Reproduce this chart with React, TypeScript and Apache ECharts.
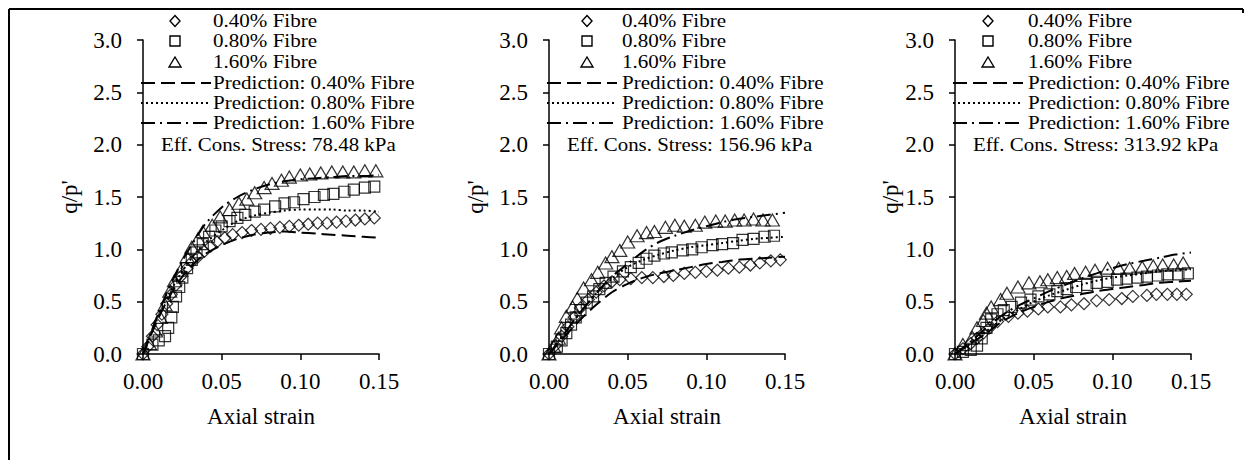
import React, { useEffect, useRef } from "react";
import * as echarts from "echarts";

type Pt = [number, number];

const panelStress = ["78.48", "156.96", "313.92"];
const fibreLabels = ["0.40% Fibre", "0.80% Fibre", "1.60% Fibre"];
const predictionLabels = ["Prediction: 0.40% Fibre", "Prediction: 0.80% Fibre", "Prediction: 1.60% Fibre"];
const xAxisName = "Axial strain";
const yAxisName = "q/p'";

// ---------- Panel 1: 78.48 kPa ----------
const p1Fibre040: Pt[] = [[0,0],[0.003,0.07],[0.006,0.17],[0.009,0.28],[0.012,0.38],[0.015,0.48],[0.018,0.57],[0.021,0.66],[0.024,0.74],[0.028,0.82],[0.031,0.88],[0.035,0.93],[0.039,0.98],[0.043,1.03],[0.047,1.07],[0.052,1.11],[0.057,1.14],[0.063,1.16],[0.069,1.18],[0.075,1.19],[0.081,1.2],[0.087,1.21],[0.093,1.22],[0.099,1.23],[0.105,1.24],[0.111,1.25],[0.117,1.25],[0.123,1.26],[0.129,1.27],[0.135,1.28],[0.141,1.29],[0.147,1.3]];
const p1Fibre080: Pt[] = [[0,0],[0.006,0.09],[0.01,0.13],[0.014,0.17],[0.016,0.25],[0.018,0.35],[0.019,0.45],[0.021,0.55],[0.023,0.64],[0.025,0.73],[0.028,0.82],[0.031,0.9],[0.034,0.97],[0.038,1.05],[0.042,1.12],[0.046,1.18],[0.05,1.22],[0.055,1.27],[0.06,1.3],[0.065,1.33],[0.071,1.36],[0.077,1.38],[0.084,1.41],[0.09,1.44],[0.096,1.45],[0.102,1.48],[0.109,1.5],[0.115,1.52],[0.121,1.53],[0.128,1.55],[0.134,1.57],[0.141,1.59],[0.147,1.6]];
const p1Fibre160: Pt[] = [[0,0],[0.004,0.1],[0.008,0.22],[0.011,0.35],[0.014,0.47],[0.017,0.6],[0.02,0.7],[0.024,0.8],[0.028,0.93],[0.031,1.02],[0.035,1.1],[0.038,1.17],[0.044,1.23],[0.049,1.31],[0.055,1.38],[0.061,1.44],[0.066,1.48],[0.071,1.54],[0.077,1.59],[0.082,1.63],[0.088,1.66],[0.093,1.69],[0.1,1.71],[0.106,1.72],[0.113,1.73],[0.12,1.74],[0.127,1.74],[0.134,1.74],[0.141,1.75],[0.148,1.75]];
const p1Pred040: Pt[] = [[0,0],[0.005,0.18],[0.01,0.35],[0.015,0.5],[0.02,0.63],[0.025,0.74],[0.03,0.83],[0.035,0.9],[0.04,0.96],[0.05,1.04],[0.06,1.1],[0.07,1.14],[0.08,1.16],[0.09,1.17],[0.1,1.16],[0.11,1.15],[0.12,1.14],[0.13,1.13],[0.14,1.12],[0.15,1.11]];
const p1Pred080: Pt[] = [[0,0],[0.005,0.19],[0.01,0.37],[0.015,0.53],[0.02,0.67],[0.025,0.79],[0.03,0.9],[0.035,0.99],[0.04,1.07],[0.05,1.18],[0.06,1.27],[0.07,1.32],[0.08,1.35],[0.09,1.37],[0.1,1.38],[0.11,1.38],[0.12,1.38],[0.13,1.37],[0.14,1.37],[0.15,1.36]];
const p1Pred160: Pt[] = [[0,0],[0.005,0.2],[0.01,0.4],[0.015,0.58],[0.02,0.74],[0.025,0.89],[0.03,1.02],[0.035,1.14],[0.04,1.25],[0.05,1.4],[0.06,1.5],[0.07,1.57],[0.08,1.62],[0.09,1.65],[0.1,1.67],[0.11,1.68],[0.12,1.69],[0.13,1.7],[0.14,1.7],[0.15,1.71]];

// ---------- Panel 2: 156.96 kPa ----------
const p2Fibre040: Pt[] = [[0,0],[0.004,0.08],[0.008,0.17],[0.012,0.26],[0.016,0.35],[0.02,0.44],[0.025,0.52],[0.03,0.59],[0.035,0.65],[0.04,0.69],[0.045,0.71],[0.052,0.72],[0.059,0.73],[0.066,0.73],[0.073,0.74],[0.079,0.75],[0.086,0.77],[0.093,0.78],[0.1,0.79],[0.107,0.8],[0.114,0.82],[0.121,0.83],[0.128,0.85],[0.134,0.87],[0.141,0.89],[0.147,0.9]];
const p2Fibre080: Pt[] = [[0,0],[0.005,0.07],[0.008,0.13],[0.011,0.2],[0.014,0.28],[0.017,0.35],[0.02,0.42],[0.024,0.49],[0.028,0.55],[0.032,0.62],[0.036,0.68],[0.041,0.74],[0.047,0.79],[0.052,0.83],[0.057,0.87],[0.062,0.91],[0.067,0.94],[0.073,0.96],[0.078,0.97],[0.085,0.99],[0.091,1.0],[0.097,1.02],[0.104,1.04],[0.11,1.05],[0.117,1.06],[0.123,1.09],[0.13,1.1],[0.137,1.12],[0.143,1.13]];
const p2Fibre160: Pt[] = [[0,0],[0.003,0.07],[0.006,0.15],[0.008,0.25],[0.011,0.36],[0.015,0.45],[0.018,0.53],[0.022,0.63],[0.027,0.71],[0.031,0.78],[0.036,0.87],[0.04,0.93],[0.045,0.99],[0.05,1.07],[0.056,1.13],[0.062,1.16],[0.067,1.17],[0.074,1.21],[0.08,1.23],[0.086,1.22],[0.093,1.23],[0.099,1.26],[0.106,1.27],[0.112,1.27],[0.118,1.28],[0.124,1.28],[0.13,1.29],[0.136,1.28],[0.142,1.28]];
const p2Pred040: Pt[] = [[0,0],[0.01,0.17],[0.02,0.33],[0.03,0.47],[0.04,0.59],[0.05,0.67],[0.06,0.73],[0.07,0.77],[0.08,0.8],[0.09,0.83],[0.1,0.86],[0.11,0.88],[0.12,0.9],[0.13,0.91],[0.14,0.92],[0.15,0.93]];
const p2Pred080: Pt[] = [[0,0],[0.01,0.2],[0.02,0.4],[0.03,0.58],[0.04,0.72],[0.05,0.83],[0.06,0.9],[0.07,0.95],[0.08,0.99],[0.09,1.02],[0.1,1.04],[0.11,1.06],[0.12,1.08],[0.13,1.1],[0.14,1.11],[0.15,1.12]];
const p2Pred160: Pt[] = [[0,0],[0.01,0.2],[0.02,0.4],[0.03,0.58],[0.04,0.74],[0.05,0.86],[0.06,0.98],[0.07,1.07],[0.08,1.13],[0.09,1.18],[0.1,1.22],[0.11,1.26],[0.12,1.29],[0.13,1.31],[0.14,1.33],[0.15,1.35]];

// ---------- Panel 3: 313.92 kPa ----------
const p3Fibre040: Pt[] = [[0,0],[0.005,0.05],[0.01,0.1],[0.014,0.15],[0.018,0.2],[0.022,0.25],[0.027,0.31],[0.034,0.36],[0.04,0.39],[0.046,0.41],[0.053,0.43],[0.059,0.45],[0.067,0.45],[0.074,0.47],[0.082,0.48],[0.09,0.51],[0.098,0.52],[0.106,0.53],[0.113,0.55],[0.122,0.56],[0.128,0.57],[0.135,0.57],[0.141,0.57],[0.147,0.57]];
const p3Fibre080: Pt[] = [[0,0],[0.005,0.02],[0.01,0.04],[0.014,0.08],[0.017,0.15],[0.02,0.25],[0.023,0.33],[0.027,0.38],[0.031,0.42],[0.036,0.45],[0.042,0.49],[0.048,0.52],[0.053,0.55],[0.06,0.57],[0.065,0.6],[0.071,0.62],[0.077,0.64],[0.084,0.66],[0.09,0.68],[0.097,0.69],[0.103,0.71],[0.109,0.72],[0.116,0.73],[0.122,0.74],[0.129,0.75],[0.135,0.76],[0.142,0.76],[0.148,0.77]];
const p3Fibre160: Pt[] = [[0,0],[0.005,0.09],[0.011,0.16],[0.014,0.25],[0.018,0.32],[0.02,0.39],[0.023,0.45],[0.029,0.52],[0.033,0.58],[0.04,0.64],[0.047,0.68],[0.054,0.69],[0.059,0.71],[0.065,0.73],[0.071,0.74],[0.076,0.77],[0.083,0.78],[0.089,0.8],[0.097,0.82],[0.104,0.82],[0.111,0.82],[0.119,0.83],[0.126,0.84],[0.132,0.85],[0.139,0.85],[0.145,0.87]];
const p3Pred040: Pt[] = [[0,0],[0.01,0.1],[0.02,0.2],[0.03,0.31],[0.04,0.39],[0.05,0.45],[0.06,0.5],[0.07,0.54],[0.08,0.57],[0.09,0.6],[0.1,0.62],[0.11,0.64],[0.12,0.66],[0.13,0.68],[0.14,0.69],[0.15,0.7]];
const p3Pred080: Pt[] = [[0,0],[0.01,0.1],[0.02,0.22],[0.03,0.33],[0.04,0.42],[0.05,0.5],[0.06,0.56],[0.07,0.61],[0.08,0.66],[0.09,0.7],[0.1,0.73],[0.11,0.75],[0.12,0.77],[0.13,0.79],[0.14,0.8],[0.15,0.81]];
const p3Pred160: Pt[] = [[0,0],[0.01,0.12],[0.02,0.25],[0.03,0.37],[0.04,0.46],[0.05,0.53],[0.06,0.6],[0.07,0.66],[0.08,0.72],[0.09,0.77],[0.1,0.82],[0.11,0.86],[0.12,0.89],[0.13,0.92],[0.14,0.95],[0.15,0.97]];

const panelScatter = [
  [p1Fibre040, p1Fibre080, p1Fibre160],
  [p2Fibre040, p2Fibre080, p2Fibre160],
  [p3Fibre040, p3Fibre080, p3Fibre160],
];
const panelPred = [
  [p1Pred040, p1Pred080, p1Pred160],
  [p2Pred040, p2Pred080, p2Pred160],
  [p3Pred040, p3Pred080, p3Pred160],
];

const FONT = "'Liberation Serif', 'Times New Roman', serif";
const gridLeft = [143, 549, 955];
const yNameX = [69, 475, 890];
const markerOff = [32, 38, 33];
const textOff = [70, 73, 73];
const dashPatterns: any[] = [[14, 6], [2, 3], [14, 5, 2, 5]];
const symbols = ["diamond", "rect", "triangle"];
const symbolSizes: any[] = [[12, 12], [11, 11], [14, 12]];

function buildOption() {
  const grid: any[] = [];
  const xAxis: any[] = [];
  const yAxis: any[] = [];
  const series: any[] = [];
  const graphic: any[] = [];

  for (let p = 0; p < 3; p++) {
    grid.push({ left: gridLeft[p], top: 40, width: 236, height: 314 });
    xAxis.push({
      gridIndex: p, type: "value", min: 0, max: 0.15, interval: 0.05,
      name: xAxisName, nameLocation: "middle", nameGap: 51,
      nameTextStyle: { fontFamily: FONT, fontSize: 23, color: "#000" },
      axisLine: { lineStyle: { color: "#000", width: 1.5 } },
      axisTick: { inside: false, length: 6, lineStyle: { color: "#000", width: 1.5 } },
      axisLabel: { fontFamily: FONT, fontSize: 23, color: "#000", margin: 16, formatter: (v: number) => v.toFixed(2) },
      splitLine: { show: false },
    });
    yAxis.push({
      gridIndex: p, type: "value", min: 0, max: 3, interval: 0.5,
      axisLine: { show: true, lineStyle: { color: "#000", width: 1.5 } },
      axisTick: { show: true, inside: false, length: 6, lineStyle: { color: "#000", width: 1.5 } },
      axisLabel: { fontFamily: FONT, fontSize: 23, color: "#000", margin: 21, formatter: (v: number) => v.toFixed(1) },
      splitLine: { show: false },
    });
    for (let k = 0; k < 3; k++) {
      series.push({
        type: "scatter", xAxisIndex: p, yAxisIndex: p, name: fibreLabels[k],
        data: panelScatter[p][k], symbol: symbols[k], symbolSize: symbolSizes[k],
        itemStyle: { color: "rgba(255,255,255,0)", borderColor: "#000", borderWidth: 1.2 },
        z: 2,
      });
    }
    for (let k = 0; k < 3; k++) {
      series.push({
        type: "line", xAxisIndex: p, yAxisIndex: p, name: predictionLabels[k],
        data: panelPred[p][k], showSymbol: false, symbol: "none", smooth: 0.3,
        lineStyle: { color: "#000", width: 2, type: dashPatterns[k] },
        z: 3,
      });
    }

    // y-axis title
    graphic.push({
      type: "text", x: yNameX[p], y: 197, rotation: Math.PI / 2,
      style: { text: yAxisName, fill: "#000", font: `23px ${FONT}`, textAlign: "center", textVerticalAlign: "middle" },
    });

    // legend drawn as graphics
    const ax = gridLeft[p];
    const mx = ax + markerOff[p];
    const tx = ax + textOff[p];
    const rows = [21, 41, 62, 83, 103, 123];
    const stroke = { stroke: "#000", fill: "none", lineWidth: 1.4 };
    graphic.push({ type: "polygon", shape: { points: [[mx, rows[0] - 5.5], [mx + 5, rows[0]], [mx, rows[0] + 5.5], [mx - 5, rows[0]]] }, style: stroke });
    graphic.push({ type: "rect", shape: { x: mx - 5, y: rows[1] - 5, width: 10, height: 10 }, style: stroke });
    graphic.push({ type: "polygon", shape: { points: [[mx, rows[2] - 5], [mx + 6, rows[2] + 5], [mx - 6, rows[2] + 5]] }, style: stroke });
    for (let k = 0; k < 3; k++) {
      graphic.push({
        type: "line", shape: { x1: ax - 2, y1: rows[3 + k], x2: ax + 68, y2: rows[3 + k] },
        style: { stroke: "#000", lineWidth: 2, lineDash: dashPatterns[k] },
      });
    }
    const labels = [...fibreLabels, ...predictionLabels];
    labels.forEach((t, i) => {
      graphic.push({
        type: "text", x: tx, y: rows[i], scaleX: 1.17,
        style: { text: t, fill: "#000", font: `18px ${FONT}`, textAlign: "left", textVerticalAlign: "middle" },
      });
    });
    graphic.push({
      type: "text", x: ax + 18, y: 144, scaleX: 1.1,
      style: { text: `Eff. Cons. Stress: ${panelStress[p]} kPa`, fill: "#000", font: `19px ${FONT}`, textAlign: "left", textVerticalAlign: "middle" },
    });
  }

  // figure frame
  graphic.push({ type: "line", shape: { x1: 9, y1: 9, x2: 1243, y2: 9 }, style: { stroke: "#000", lineWidth: 2 } });
  graphic.push({ type: "line", shape: { x1: 9, y1: 9, x2: 9, y2: 460 }, style: { stroke: "#000", lineWidth: 2 } });
  graphic.push({ type: "line", shape: { x1: 1243, y1: 9, x2: 1243, y2: 13 }, style: { stroke: "#000", lineWidth: 2 } });

  return {
    animation: false,
    backgroundColor: "#fff",
    textStyle: { fontFamily: FONT },
    grid, xAxis, yAxis, series, graphic,
  };
}

export default function App() {
  const ref = useRef<HTMLDivElement>(null);
  useEffect(() => {
    if (!ref.current) return;
    const chart = echarts.init(ref.current, undefined, { renderer: "svg" });
    chart.setOption(buildOption() as any);
    return () => chart.dispose();
  }, []);
  return <div ref={ref} style={{ position: "fixed", left: 0, top: 0, width: 1245, height: 460 }} />;
}
